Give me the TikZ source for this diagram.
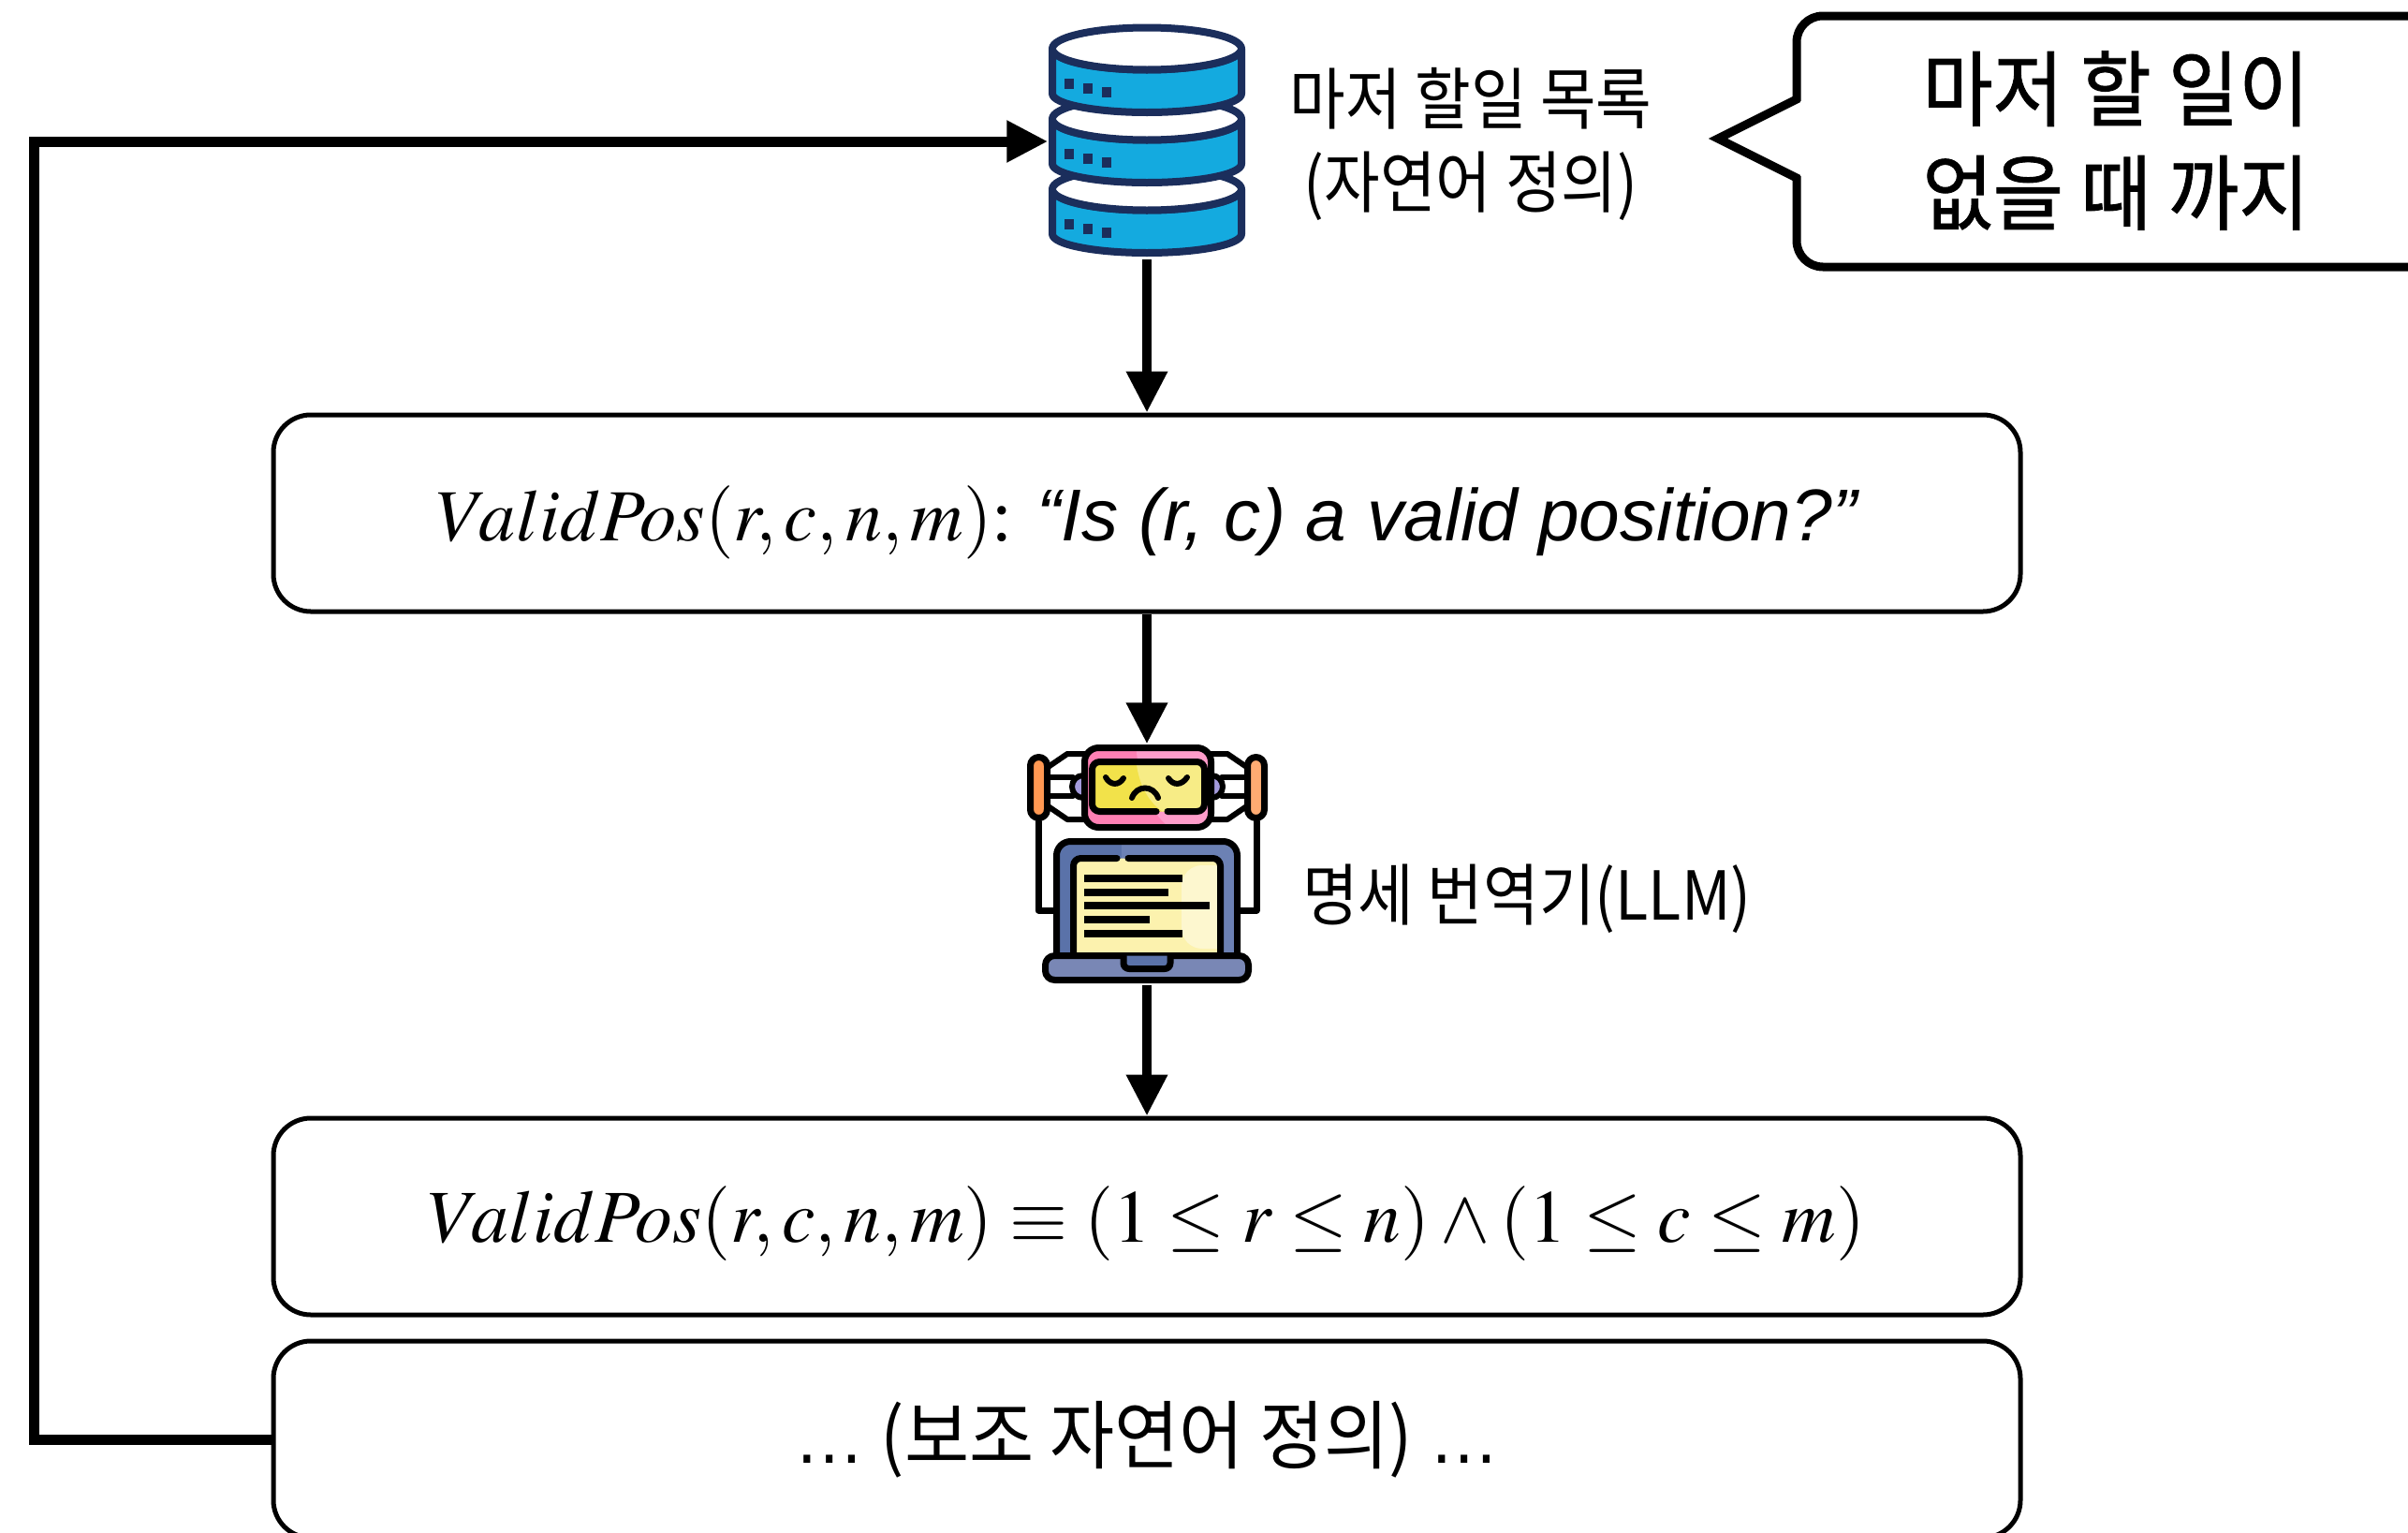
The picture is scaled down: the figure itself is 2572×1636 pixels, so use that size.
\documentclass[tikz,border=0pt]{standalone}
\usepackage{mathptmx}
\usepackage[no-math]{fontspec}
\usepackage{graphicx}
\usetikzlibrary{arrows.meta}
\setmainfont{Liberation Serif}
\newfontfamily\kr{Noto Sans CJK KR}
\newfontfamily\krb{Noto Sans CJK KR}[FakeBold=1]
\newfontfamily\lsans{Liberation Sans}
\newcommand\krx[2]{\scalebox{#1}[1]{#2}}
\definecolor{dbblue}{HTML}{14AADF}
\definecolor{dbnavy}{HTML}{1B2E5C}
\definecolor{headpink}{HTML}{FF80B4}
\definecolor{headpinkl}{HTML}{FF9CCA}
\definecolor{faceyel}{HTML}{F2E24A}
\definecolor{faceyell}{HTML}{F7EC86}
\definecolor{earorange}{HTML}{FF9852}
\definecolor{earorangel}{HTML}{FFAB72}
\definecolor{boltpurple}{HTML}{A49BDD}
\definecolor{lapblue}{HTML}{5A72A9}
\definecolor{lapbluel}{HTML}{6C81B4}
\definecolor{lapbase}{HTML}{7987B5}
\definecolor{paper}{HTML}{FCF2AE}
\definecolor{paperl}{HTML}{FDF7CF}
\begin{document}
\begin{tikzpicture}[x=1pt, y=-1pt,
  box/.style={draw, line width=5pt, rounded corners=40pt, minimum width=1866pt,
    minimum height=210pt, inner sep=0pt, fill=white},
  boxtext/.style={inner sep=0pt},
  conn/.style={line width=10pt, -{Triangle[length=44pt, width=42pt]}},
  loopline/.style={line width=11pt, line join=miter, -{Triangle[length=44pt, width=42pt]}},
  krlabel/.style={font=\kr\fontsize{72}{89}\selectfont, inner sep=0pt},
  rline/.style={line width=7pt, line join=round, line cap=round},
  fline/.style={line width=6pt, line cap=round},
  bar/.style={line width=7.5pt},
  dbline/.style={draw=dbnavy, line width=8pt, line join=round},
]
\useasboundingbox (0,0) rectangle (2572,1636);
\fill[white] (0,0) rectangle (2572,1636);
\clip (0,0) rectangle (2572,1636);

% ---------- database stack ----------
\foreach \k [evaluate=\k as \c using 52+75*\k] in {2,1,0} {
  \path[dbline, fill=dbblue] (1124,\c) -- (1124,{\c+48})
    arc[start angle=180, end angle=0, x radius=101, y radius=20]
    -- (1326,\c)
    arc[start angle=0, end angle=180, x radius=101, y radius=22.5] -- cycle;
  \path[dbline, fill=white] (1225,\c) ellipse[x radius=101, y radius=22.5];
  \fill[dbnavy] (1137,{\c+32}) rectangle +(10,11);
  \fill[dbnavy] (1157,{\c+37}) rectangle +(10,11);
  \fill[dbnavy] (1177,{\c+41}) rectangle +(10,11);
}
\node[inner sep=0pt, minimum width=211pt, minimum height=252pt] (db) at (1225,151) {};

% ---------- robot translator ----------
% antenna wires
\draw[rline] (1109,877) -- (1109,972) -- (1130,972);
\draw[rline] (1342,877) -- (1342,972) -- (1321,972);
% connectors
\draw[rline, line width=6pt] (1118,820) -- (1140,805) -- (1160,805);
\draw[rline, line width=6pt] (1118,830) -- (1146,830);
\draw[rline, line width=6pt] (1118,850) -- (1146,850);
\draw[rline, line width=6pt] (1118,860) -- (1140,875) -- (1160,875);
\draw[rline, line width=6pt] (1333,820) -- (1311,805) -- (1291,805);
\draw[rline, line width=6pt] (1333,830) -- (1305,830);
\draw[rline, line width=6pt] (1333,850) -- (1305,850);
\draw[rline, line width=6pt] (1333,860) -- (1311,875) -- (1291,875);
\draw[rline, line width=6pt, fill=boltpurple] (1157,840) circle[radius=12];
\draw[rline, line width=6pt, fill=boltpurple] (1294,840) circle[radius=12];
% ears
\draw[rline, fill=earorange, rounded corners=9pt] (1100.5,808.5) rectangle (1118.5,873.5);
\draw[rline, fill=earorangel, rounded corners=9pt] (1332.5,808.5) rectangle (1350.5,873.5);
% head
\begin{scope}
  \clip[rounded corners=15pt] (1158.5,798.5) rectangle (1293.5,883.5);
  \fill[headpink] (1150,790) rectangle (1300,890);
  \fill[headpinkl] (1213,790) .. controls (1216,850) and (1235,878) .. (1262,892)
    -- (1300,892) -- (1300,790) -- cycle;
\end{scope}
\draw[rline, rounded corners=15pt] (1158.5,798.5) rectangle (1293.5,883.5);
% face screen
\begin{scope}
  \clip[rounded corners=8pt] (1166.5,813.5) rectangle (1286.5,866.5);
  \fill[faceyel] (1160,808) rectangle (1292,872);
  \fill[faceyell] (1213,808) .. controls (1216,845) and (1232,862) .. (1250,872)
    -- (1292,872) -- (1292,808) -- cycle;
\end{scope}
\draw[rline, rounded corners=8pt] (1247,866.5) -- (1286.5,866.5) -- (1286.5,813.5)
  -- (1166.5,813.5) -- (1166.5,866.5) -- (1235,866.5);
\draw[fline] (1181,830) .. controls (1186,839) and (1195,839) .. (1200,831);
\draw[fline] (1248,831) .. controls (1253,839) and (1262,839) .. (1268,830);
\draw[fline] (1209,852) .. controls (1214,838) and (1232,838) .. (1237,852);
% laptop lid
\begin{scope}
  \clip[rounded corners=15pt] (1128.5,898.5) rectangle (1321.5,1030);
  \fill[lapblue] (1120,890) rectangle (1330,1030);
  \fill[lapbluel] (1198,890) rectangle (1330,1030);
\end{scope}
\draw[rline, rounded corners=15pt] (1128.5,1025) -- (1128.5,898.5) -- (1321.5,898.5) -- (1321.5,1025);
% laptop display
\begin{scope}
  \clip[rounded corners=8pt] (1146.5,916.5) rectangle (1303.5,1022);
  \fill[paper] (1140,910) rectangle (1310,1025);
  \fill[paperl, rounded corners=22pt] (1262,924) rectangle (1330,1013);
\end{scope}
\draw[rline, rounded corners=8pt] (1205,916.5) -- (1303.5,916.5) -- (1303.5,1022);
\draw[rline, rounded corners=8pt] (1146.5,1022) -- (1146.5,916.5) -- (1193,916.5);
\draw[bar] (1158,938) -- (1263,938);
\draw[bar] (1158,953) -- (1248,953);
\draw[bar] (1158,967) -- (1292,967);
\draw[bar] (1158,982) -- (1228,982);
\draw[bar] (1158,997) -- (1263,997);
% laptop base
\draw[rline, fill=lapbase, rounded corners=10pt] (1116.5,1020.5) rectangle (1333.5,1046.5);
\draw[rline, fill=lapblue, rounded corners=6pt] (1200,1020.5) -- (1200,1034.5) -- (1250,1034.5) -- (1250,1020.5);
\node[inner sep=0pt, minimum width=258pt, minimum height=257pt] (robot) at (1225,923) {};

% ---------- labels ----------
\node[krlabel, align=center] (todo) at (1571,154)
  {\krx{0.9}{마저 할일 목록}\\\krx{0.9}{(자연어 정의)}};
\node[krlabel, anchor=west] (llm) at (1391,960) {\krx{0.9}{명세 번역기(LLM)}};

% ---------- callout ----------
\node[draw, line width=9pt, fill=white, rounded corners=28pt, inner sep=0pt,
  minimum width=741pt, minimum height=268pt] (callout) at (2289.5,151) {};
\fill[white] (1926,107) -- (1835,148) -- (1926,189) -- cycle;
\draw[line width=9pt, line join=miter] (1921,105) -- (1835,148) -- (1921,191);
\node[inner sep=0pt, font=\krb\fontsize{88}{111}\selectfont, align=center] (ctext) at (2260,150)
  {\krx{0.93}{마저 할 일이}\\\krx{0.93}{없을 때 까지}};

% ---------- formula boxes ----------
\node[box] (box1) at (1225,548) {};
\node[boxtext] (box1text) at ([yshift=-10pt]box1.center)
  {\resizebox{1516pt}{!}{$ValidPos(r, c, n, m)$: {\lsans\itshape “Is (r, c) a valid position?”}}};
\node[box] (box2) at (1225,1299) {};
\node[boxtext] (box2text) at ([yshift=-8pt]box2.center)
  {\resizebox{1534pt}{!}{$ValidPos(r, c, n, m) \equiv (1 \leq r \leq n) \land (1 \leq c \leq m)$}};
\node[box] (box3) at (1225,1537)
  {\kr\fontsize{80}{90}\selectfont\krx{0.94}{{\lsans …} (보조 자연어 정의) {\lsans …}}};

% ---------- connectors ----------
\draw[conn] (db.south) -- (box1.north);
\draw[conn] (box1.south) -- (robot.north);
\draw[conn] (robot.south) -- (box2.north);
\coordinate (loopcorner) at (36,1537);
\draw[loopline] (box3.west) -- (loopcorner) |- (db.west);
\end{tikzpicture}
\end{document}
